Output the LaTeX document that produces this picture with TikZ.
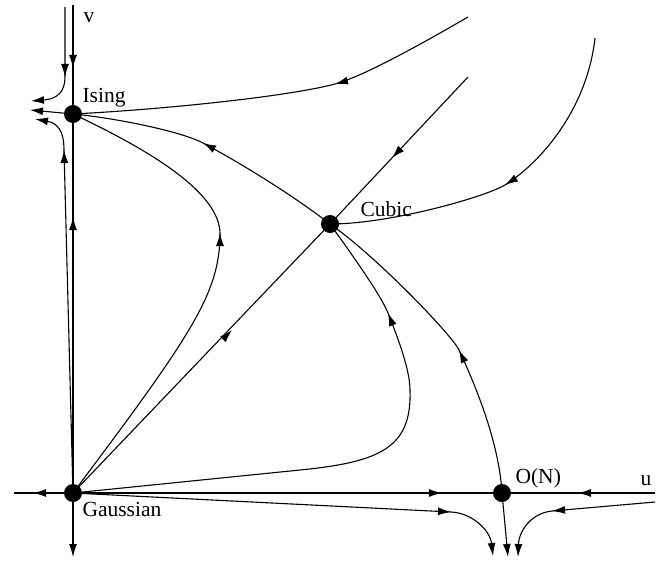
\documentclass[tikz,border=0pt]{standalone}
\usepackage{fontspec}
\setmainfont{Liberation Serif}
\usetikzlibrary{arrows.meta,decorations.markings}
\begin{document}
\begin{tikzpicture}[x=1pt,y=-1pt,line width=1.1pt,
  dot/.style={circle,fill=black,inner sep=0pt,minimum size=18pt},
  lbl/.style={inner sep=0pt,anchor=base west,font=\fontsize{21.5}{24}\selectfont},
  arr/.style={-{Latex[length=13pt,width=8pt]}},
  tipat/.style={decorate,decoration={markings,
    mark=at position 0.9999 with {\arrow{Latex[length=13pt,width=8pt]}}}}]
\useasboundingbox (0,0) rectangle (672,568);
% fixed points
\node[dot] (I) at (73,114) {};
\node[dot] (C) at (330,224) {};
\node[dot] (G) at (73,493) {};
\node[dot] (O) at (502,493) {};
% free ends and arrow points
\coordinate (vtop) at (73,5);
\coordinate (a1) at (73,68);
\coordinate (a2) at (73,217);
\coordinate (vbot) at (73,557);
\coordinate (uleft) at (14,493);
\coordinate (a3) at (33,493);
\coordinate (a4) at (442,493);
\coordinate (uright) at (655,493);
\coordinate (a5) at (578,493);
\coordinate (obot) at (508,557);
\coordinate (ileft) at (30,110);
\coordinate (tl) at (65,7);
\coordinate (a6) at (65,77);
\coordinate (tlend) at (31,101);
\coordinate (a7) at (64,150);
\coordinate (blend) at (35,119);
\coordinate (a8) at (203,143);
\coordinate (a9) at (220,233);
\coordinate (n1) at (300,470);
\coordinate (n2) at (410,390);
\coordinate (a10) at (388,313);
\coordinate (a11) at (459,350);
\coordinate (p0) at (468,77);
\coordinate (a12) at (392,158);
\coordinate (q0) at (595,38);
\coordinate (a13) at (505,185);
\coordinate (r0) at (468,17);
\coordinate (a14) at (335,84);
\coordinate (a15) at (451,512);
\coordinate (s1) at (493,556);
\coordinate (t0) at (655,502);
\coordinate (a16) at (552,511);
\coordinate (t1) at (518,557);
\coordinate (a17) at (232,330);
% v axis
\draw (vtop) -- (I.center);
\path[tipat] (vtop) -- (a1);
\draw (G.center) -- (I.center);
\path[tipat] (G.center) -- (a2);
\draw[arr] (G.center) -- (vbot);
% u axis
\draw (G.center) -- (uleft);
\path[tipat] (G.center) -- (a3);
\draw (G.center) -- (O.center);
\path[tipat] (G.center) -- (a4);
\draw (uright) -- (O.center);
\path[tipat] (uright) -- (a5);
\draw[arr] (O.center) -- (obot);
% near Ising, left side
\draw[arr] (I.center) -- (ileft);
\draw[arr] (tl) -- (a6) .. controls (65,92) and (57,99) .. (tlend);
\path[tipat] (tl) -- (a6);
\draw[arr] (G.center) -- (a7) .. controls (64,130) and (57,123) .. (blend);
\path[tipat] (G.center) -- (a7);
% Cubic -> Ising
\draw (C.center) .. controls (290,193) and (235,160) .. (a8)
  .. controls (180,131) and (115,118) .. (I.center);
\path[tipat] (C.center) .. controls (290,193) and (235,160) .. (a8);
% Gaussian -> Ising (C-shaped)
\draw (G.center) .. controls (193,333) and (220,293) .. (a9)
  .. controls (219,195) and (160,155) .. (I.center);
\path[tipat] (G.center) .. controls (193,333) and (220,293) .. (a9);
% Gaussian -> Cubic straight
\draw (G.center) -- (C.center);
\path[tipat] (G.center) -- (a17);
% Gaussian -> Cubic loop
\draw (G.center) -- (n1) .. controls (380,462) and (412,448) .. (n2)
  .. controls (410,370) and (398,338) .. (a10)
  .. controls (380,293) and (345,245) .. (C.center);
\path[tipat] (n2) .. controls (410,370) and (398,338) .. (a10);
% O(N) -> Cubic
\draw (O.center) .. controls (499,440) and (473,380) .. (a11)
  .. controls (452,335) and (375,255) .. (C.center);
\path[tipat] (O.center) .. controls (499,440) and (473,380) .. (a11);
% top right straight into Cubic
\draw (p0) -- (C.center);
\path[tipat] (p0) -- (a12);
% right curve into Cubic
\draw (q0) .. controls (587,110) and (540,163) .. (a13)
  .. controls (485,197) and (390,224) .. (C.center);
\path[tipat] (q0) .. controls (587,110) and (540,163) .. (a13);
% top curve into Ising
\draw (r0) .. controls (430,39) and (365,76) .. (a14)
  .. controls (290,96) and (170,109) .. (I.center);
\path[tipat] (r0) .. controls (430,39) and (365,76) .. (a14);
% bottom flows
\draw[arr] (G.center) -- (a15) .. controls (472,513) and (490,530) .. (s1);
\path[tipat] (G.center) -- (a15);
\draw[arr] (t0) -- (a16) .. controls (532,513) and (519,530) .. (t1);
\path[tipat] (t0) -- (a16);
% labels
\node[lbl] (lI) at (82,102.5) {Ising};
\node[lbl] (lC) at (360,216.5) {Cubic};
\node[lbl] (lG) at (82,516.5) {Gaussian};
\node[lbl] (lO) at (515,483) {O(N)};
\node[lbl] (lu) at (640,485) {u};
\node[lbl] (lv) at (83,22) {v};
\end{tikzpicture}
\end{document}
